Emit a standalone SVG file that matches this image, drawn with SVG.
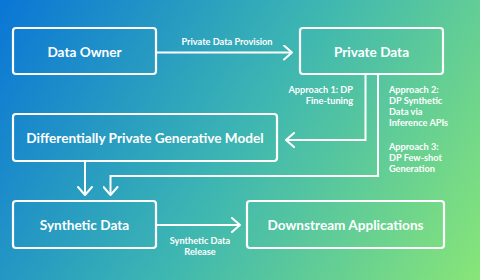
<svg xmlns="http://www.w3.org/2000/svg" width="480" height="280" viewBox="0 0 480 280">
<defs>
<linearGradient id="bg" gradientUnits="userSpaceOnUse" x1="0" y1="0" x2="480" y2="280">
<stop offset="0" stop-color="#0a76d6"/>
<stop offset="0.5" stop-color="#3db6b2"/>
<stop offset="1" stop-color="#88e578"/>
</linearGradient>
<marker id="ah" viewBox="0 0 12 16" refX="10" refY="8" markerWidth="12" markerHeight="16" markerUnits="userSpaceOnUse" orient="auto">
<path d="M2,1 L10,8 L2,15" fill="none" stroke="#fff" stroke-width="2" stroke-linecap="round" stroke-linejoin="round"/>
</marker>
<style>
.box{fill:none;stroke:#fff;stroke-width:2.2}
.t{fill:#fff;font-family:Lato,"Open Sans","Noto Sans",sans-serif;font-weight:700;font-size:13.6px;text-anchor:middle}
.s{fill:#fff;font-family:Lato,"Open Sans","Noto Sans",sans-serif;font-weight:700;font-size:9.2px}
.c{fill:none;stroke:#fff;stroke-width:2;marker-end:url(#ah)}
</style>
</defs>
<rect width="480" height="280" fill="url(#bg)"/>
<g id="connectors">
<path class="c" d="M157,52.5 H292"/>
<path class="c" d="M365.5,74 V140 H286"/>
<path class="c" d="M378,74 V176 H110.5 V195"/>
<path class="c" d="M85,161 V195"/>
<path class="c" d="M157,225 H240"/>
</g>
<g id="edge-labels">
<text class="s" x="227" y="44.5" text-anchor="middle">Private Data Provision</text>
<text class="s" x="353" y="92.5" text-anchor="end">Approach 1: DP</text>
<text class="s" x="353" y="103.8" text-anchor="end">Fine-tuning</text>
<text class="s" x="389" y="92.5">Approach 2:</text>
<text class="s" x="389" y="103.8">DP Synthetic</text>
<text class="s" x="389" y="115.1">Data via</text>
<text class="s" x="389" y="126.4">Inference APIs</text>
<text class="s" x="389" y="149.5">Approach 3:</text>
<text class="s" x="389" y="160.8">DP Few-shot</text>
<text class="s" x="389" y="172.1">Generation</text>
<text class="s" x="200" y="243.5" text-anchor="middle">Synthetic Data</text>
<text class="s" x="200" y="254.5" text-anchor="middle">Release</text>
</g>
<g id="data-owner">
<rect class="box" x="13" y="28" width="143" height="46" rx="3"/>
<text class="t" x="84.5" y="56.5">Data Owner</text>
</g>
<g id="private-data">
<rect class="box" x="300" y="28" width="143" height="46" rx="3"/>
<text class="t" x="371.5" y="56.5">Private Data</text>
</g>
<g id="dp-model">
<rect class="box" x="13" y="114" width="264" height="47" rx="3"/>
<text class="t" x="145" y="142.5">Differentially Private Generative Model</text>
</g>
<g id="synthetic-data">
<rect class="box" x="13" y="201" width="143" height="47" rx="3"/>
<text class="t" x="84.5" y="229.5">Synthetic Data</text>
</g>
<g id="downstream">
<rect class="box" x="247" y="201" width="197" height="47" rx="3"/>
<text class="t" x="345.5" y="229.5">Downstream Applications</text>
</g>
</svg>
